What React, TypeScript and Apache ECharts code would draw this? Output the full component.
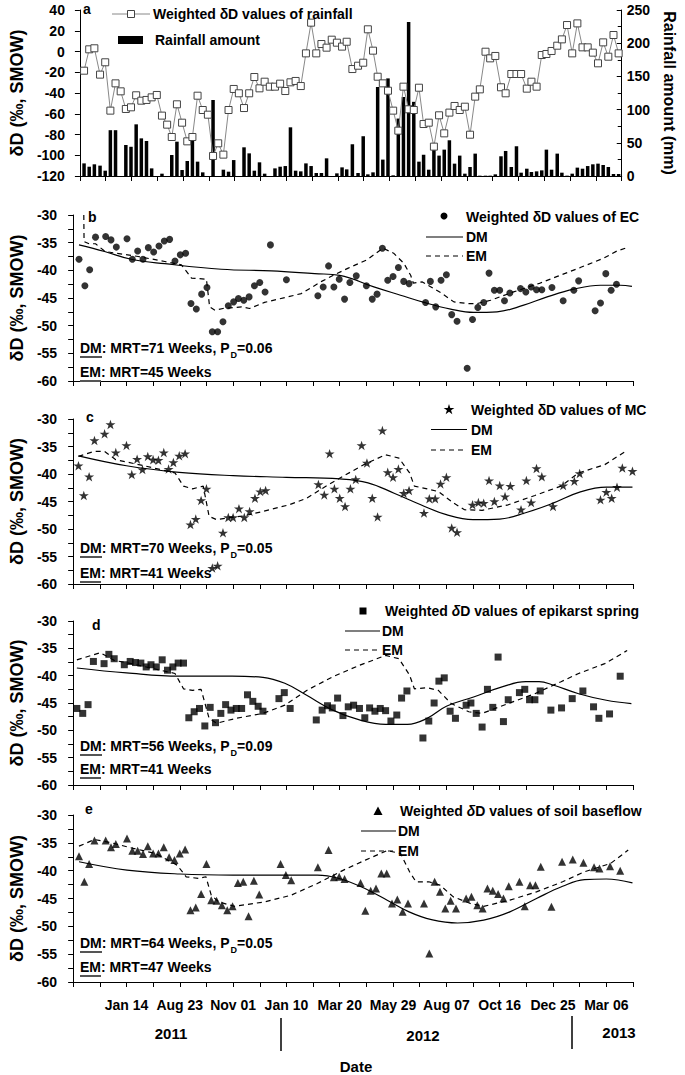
import React, { useEffect, useRef } from "react";
import * as echarts from "echarts";

const FONT = '"Liberation Sans", Arial, Helvetica, sans-serif';

// ---------- axis labels ----------
const dateTickValues = [10, 20, 30, 40, 50, 60, 70, 80, 90, 100];
const dateTickLabels = ["Jan 14", "Aug 23", "Nov 01", "Jan 10", "Mar 20", "May 29", "Aug 07", "Oct 16", "Dec 25", "Mar 06"];
const weekTicks = [0, 5, 10, 15, 20, 25, 30, 35, 40, 45, 50, 55, 60, 65, 70, 75, 80, 85, 90, 95, 100, 105];
const yearLabels = ["2011", "2012", "2013"];

// ---------- panel a: rainfall ----------
const rainWeek = [0.8, 1.8, 2.8, 3.9, 4.9, 5.9, 6.9, 7.9, 8.9, 9.9, 10.9, 11.9, 12.9, 13.9, 14.9, 15.9, 16.9, 17.8, 18.8, 19.8, 20.8, 21.8, 22.8, 23.8, 24.8, 25.8, 26.8, 27.8, 28.8, 29.8, 30.8, 31.8, 32.8, 33.8, 34.8, 35.8, 36.8, 37.8, 38.8, 39.8, 40.8, 41.8, 42.8, 43.8, 44.8, 45.8, 46.8, 47.8, 48.8, 49.8, 50.8, 51.7, 52.8, 53.9, 54.9, 55.8, 56.8, 57.7, 58.7, 59.7, 60.7, 61.7, 62.7, 63.7, 64.7, 65.7, 66.6, 67.6, 68.6, 69.6, 70.6, 71.6, 72.6, 73.6, 74.6, 75.6, 76.6, 77.5, 78.6, 79.5, 80.5, 81.6, 82.5, 83.6, 84.6, 85.5, 86.6, 87.5, 88.5, 89.5, 90.4, 91.4, 92.5, 93.4, 94.4, 95.4, 96.4, 97.4, 98.4, 99.4, 100.4, 101.4, 102.4, 103.4, 104.4];
const rainDelta = [-18.5, 2.1, 3.1, -22.3, -10.4, -57, -30.7, -38.4, -55.4, -53.8, -42.2, -47.4, -46.7, -44.2, -41.9, -61.8, -70.5, -82.4, -50.9, -68.6, -86.6, -82.4, -42.6, -56.4, -60.9, -100.7, -88.5, -99.4, -56.4, -36.1, -40.3, -54.5, -40.3, -24.6, -35.5, -29.1, -33.9, -33.9, -31, -38.1, -29.7, -28.4, -33.3, -1.8, 27.8, -1.8, 7.2, 3.7, 11.4, 8.5, 4.7, 9.4,
  -16.9, -13.7, -10.8, 21.4, 0.8, -24.3, -30.7, -37.8, -57, -76.3, -33.9, -55.7, -56.4, -34.9, -69.9, -68.6, -91.7, -61.5, -78.9, -58.9, -52.5, -56.4, -53.2, -80.2, -43.5, -36.5, -0.2, -6.6, -4.3, -34.5, -40.3, -21.7, -21.7, -21.7, -35.8, -29.1, -33.9, -3.4, -2.4, 0.5, 5.6, 11.7, 25.5, -1.8, 27.1, 4, 4, -1.1, -11.4, 8.8, -5, 15.9, -1.8];
const rainAmount = [19, 14, 17.6, 15.6, 8, 69, 69, 0, 46.7, 44, 77.8, 56.7, 52.7, 11.5, 0, 3.5, 0, 31.6, 51.7, 9, 22.6, 55.2, 21.6, 5.5, 0, 114.5, 0, 9.5, 6.5, 24, 0, 43.2, 34.1, 8, 20.6, 3.5, 0, 11.5, 14, 15, 73.3, 8, 7, 19, 15, 4.5, 4.5, 26.6, 0, 4, 13, 10,
  47.8, 4.5, 59.9, 2.5, 5.5, 134, 24.7, 147, 1, 86.5, 119, 232, 111.7, 21.6, 32, 9.5, 39.7, 30.7, 39.7, 53.8, 18.6, 30.7, 3.5, 13.6, 33.7, 0.5, 0.5, 0.5, 2.5, 29.7, 37.7, 13.6, 44.8, 5, 11, 6, 7, 8.5, 39.7, 9.5, 33.7, 5, 0.5, 3.5, 12.6, 11, 15, 17.6, 18.6, 16.6, 13.6, 3, 3];

// ---------- panel b: EC ----------
const ecPoints = [[1.1, -38], [2.2, -42.8], [3.1, -39.9], [4.2, -34], [6.1, -33.9], [7.1, -34.5], [8.1, -35.8], [10.1, -34.3], [11.1, -38], [12.1, -36.5], [13.1, -38], [14.1, -35.9], [15.1, -36.7], [16.1, -35.6], [17.1, -34.7], [18.1, -34.4], [19.1, -38.3], [20.1, -37.2], [21.1, -36.9], [22.1, -46], [23.1, -47], [24.1, -44.3], [25.1, -43.1], [26.1, -51.1], [27.1, -51.1], [28.1, -49.3], [29.1, -46.4], [30.1, -45.7], [31, -45.1], [32, -45.4], [33, -44.8], [34, -42.8], [35, -42.2], [36, -43.9], [37, -35.4], [40, -41.7], [45.9, -44.6], [46.9, -43], [47.9, -39.2], [48.9, -43], [49.9, -41.6], [50.9, -45.2], [51.9, -42.2], [53.1, -41], [55, -42.8], [56.1, -45.2], [57, -44.3], [58, -36], [59, -41.8], [60, -41.1], [61, -39.5], [62, -42], [63, -42.4], [66.1, -45.8], [67, -42], [68, -46.6], [69, -41.8], [70, -40.8], [71, -48], [72, -49.2], [73.9, -57.7], [74.9, -48.9], [75.9, -46.7], [77, -45.8], [78, -40.5], [79, -43.6], [80, -43.6], [80.9, -45.5], [81.9, -44.1], [83.9, -43.3], [84.9, -43.9], [85.9, -43], [86.9, -43.5], [87.9, -43.5], [89.8, -43.1], [91.9, -45.5], [93.9, -43.6], [94.8, -41.9], [97.9, -47.3], [98.9, -45.9], [99.9, -40.6], [100.9, -43.6], [101.9, -42.5]];
const ecDM = [[1.1, -35.4], [5.9, -36.6], [10.9, -38], [17.2, -38.8], [27.8, -39.8], [37.2, -40.1], [45.3, -40.6], [50, -40.9], [56.4, -43], [61.4, -44.5], [65.8, -45.8], [70.8, -47], [75.1, -47.6], [79.5, -47.5], [84.5, -46.3], [88.9, -44.8], [93.9, -43.4], [98.9, -42.7], [102.6, -42.7], [104.8, -42.9]];
const ecEM = [[2, -30], [2.05, -34.8], [3, -35.2], [4.2, -35.2], [6, -36.6], [12.2, -37.5], [17.2, -38.4], [20.3, -39], [22.2, -41.4], [25, -41.6], [25.6, -46.6], [26.6, -47.2], [28.1, -46.9], [31.6, -46.6], [33.1, -46.9], [35.9, -45.8], [42.8, -44.2], [46.6, -42], [49, -40.8], [51.6, -39.6], [55.1, -38.1], [58.1, -36], [60.1, -36.9], [62, -38.7], [63.3, -40.9], [63.8, -42.3], [65.5, -42.1], [68.9, -44], [71.4, -45.7], [73.9, -46], [75.8, -46], [78.3, -45.4], [82.6, -43.9], [87.6, -42.3], [90.8, -41.1], [95.1, -39.5], [99.5, -37.8], [102, -36.5], [103.9, -35.9]];

// ---------- panel c: MC ----------
const mcPoints = [[1, -38.5], [2, -43.9], [3, -40.5], [4, -33.9], [5.9, -32.7], [7, -31], [8, -36.1], [10, -34.8], [11, -40.1], [12, -37.3], [13, -39.2], [14, -36.8], [15, -37.4], [16, -37.5], [17, -36.1], [17.9, -39.1], [18.8, -37.9], [19.9, -36.7], [21, -36.3], [22, -49.2], [23, -48.2], [24, -44.8], [25, -42.7], [26.1, -57.1], [27.1, -56.7], [28.1, -50.7], [29.1, -47.9], [30, -47.9], [31.1, -46.3], [32.1, -47.9], [33.1, -46.8], [34.1, -44.4], [35.1, -43.2], [36.1, -43], [46, -41.9], [47.1, -43.8], [48.1, -36.3], [49, -42.7], [50, -44.4], [51, -45.9], [52, -42.7], [53, -41], [54.1, -34.8], [55.1, -38], [56.1, -44.4], [57.1, -47.8], [58, -32.1], [59, -39.7], [60, -40.6], [61, -39.1], [62, -43.5], [63, -43], [65.8, -47.1], [66.8, -44.5], [67.9, -44.5], [68.9, -41.8], [70, -40.6], [71, -49.8], [72, -50.6], [74.9, -45.6], [76, -45.2], [77, -45.3], [78, -41.2], [79, -45], [80, -42.1], [81, -44.1], [82, -42.2], [84, -46.5], [85, -41.2], [85.9, -45.2], [86.9, -39], [87.9, -40.5], [90, -45.9], [91.9, -42.1], [94, -41.3], [95, -39.9], [98.9, -44.7], [100, -43.3], [101, -44.4], [102, -42.4], [103, -38.9], [104.9, -39.5]];
const mcDM = [[1, -36.7], [10, -38.5], [19.9, -39.7], [30, -40.3], [40, -40.6], [50, -40.9], [55.3, -41.6], [60.2, -43.5], [65.2, -45.6], [70, -47.4], [75, -48.3], [80, -48.2], [85, -47], [90, -45.3], [95, -43.3], [100, -42.4], [104.9, -42.4]];
const mcEM = [[1, -36.8], [3.9, -35.9], [5.9, -35.9], [8, -37.4], [13.3, -38.5], [19.1, -39.8], [20.7, -42.2], [22.4, -42.7], [24.4, -42.2], [25.5, -47.7], [26.9, -48.3], [29, -48], [32.1, -47.6], [35.6, -46.8], [40.5, -45.6], [43.8, -44.4], [47.1, -42.4], [51.2, -40.1], [54.5, -38.3], [58.6, -36.5], [61.1, -37.1], [63.1, -39.8], [64, -42.2], [66.4, -42.7], [68.5, -43.2], [71.4, -45.3], [73.4, -46.5], [76.7, -46.6], [81.6, -45.6], [86.6, -43.9], [91.5, -42.2], [94.8, -39.8], [99.7, -38.3], [103.9, -35.7]];

// ---------- panel d: epikarst spring ----------
const epPoints = [[0.7, -46], [1.8, -46.9], [2.8, -45.3], [3.8, -37.4], [5.8, -37.8], [6.7, -36.1], [7.7, -36.9], [9.6, -38], [10.7, -37.4], [11.7, -37.6], [12.7, -37.7], [13.7, -38.4], [14.6, -38], [15.6, -38.4], [16.7, -37.1], [17.7, -39], [18.7, -38.4], [19.7, -37.7], [20.7, -37.7], [21.7, -47.7], [22.7, -46.6], [23.7, -46], [24.7, -49.2], [25.7, -45.8], [26.7, -48.6], [27.7, -46.9], [28.6, -45.3], [29.6, -46.3], [30.6, -46], [31.6, -46], [32.7, -43.5], [33.7, -44.7], [34.7, -45.6], [35.6, -46.5], [38.6, -44.2], [39.6, -43.1], [40.7, -46], [45.6, -48.1], [46.7, -46.3], [47.7, -45.5], [48.6, -45.9], [49.6, -44.1], [50.6, -47.3], [51.6, -45.7], [52.6, -45.4], [53.7, -46], [54.7, -47.7], [55.6, -45.9], [56.6, -46.5], [57.6, -46], [58.6, -46.4], [59.6, -48.3], [60.7, -47.2], [61.6, -44.1], [62.6, -42.8], [65.6, -51.4], [66.7, -48.3], [67.7, -45], [68.6, -41], [69.6, -40.4], [70.7, -46.5], [71.7, -47.8], [73.7, -45.4], [74.6, -45], [75.6, -46.9], [76.7, -49.4], [77.7, -42.5], [78.7, -45.8], [79.7, -36.6], [80.7, -48.4], [81.6, -44.4], [83.7, -43.1], [84.7, -42.5], [85.6, -44.4], [86.6, -44.4], [87.6, -42.8], [89.6, -46.3], [91.6, -45.9], [93.6, -44.2], [95.6, -42.8], [97.6, -45.7], [98.6, -47.8], [100.6, -47], [102.6, -40.1]];
const epDM = [[0.7, -38.6], [10, -39.5], [19.9, -40.1], [29.8, -40.1], [35.6, -40.3], [39.7, -41.4], [43.8, -43.6], [48.7, -46.3], [53.7, -48.1], [58.6, -48.9], [62.7, -48.9], [66.4, -47.8], [70, -45.6], [75.1, -43.9], [80, -42.2], [84.9, -41.1], [87.4, -41.1], [90, -41.7], [94.8, -43.3], [100, -44.5], [104.7, -45.1]];
const epEM = [[0.7, -37.1], [5.1, -35.8], [7.7, -37.2], [10.9, -37.8], [19.1, -39.6], [20.7, -42.4], [22.4, -42.7], [24, -42.5], [25.5, -47.8], [26.9, -48.7], [30.6, -47.8], [35.6, -46.9], [39.7, -45.4], [43.8, -42.7], [48.7, -40.2], [53.7, -38.1], [58.6, -36.3], [61.1, -36.9], [63.1, -39.9], [64, -42.4], [66.4, -42.2], [68.5, -42.7], [70.9, -45.1], [74.2, -46.6], [76.7, -46.9], [81.6, -45.1], [86.6, -43.3], [91.5, -41.1], [94.8, -39.6], [99.7, -37.8], [103.9, -35.4]];

// ---------- panel e: soil baseflow ----------
const sbPoints = [[1.1, -37.4], [2.1, -42], [3, -38.8], [4, -34.6], [6.1, -34.6], [7.1, -35.8], [8, -35.2], [10.1, -34.2], [11.1, -36.4], [12.1, -36.4], [13.1, -37], [14, -35.6], [15, -36.9], [16, -36.9], [17, -35.8], [18, -37.6], [19, -38.1], [20, -36.9], [21, -36.2], [22, -47.1], [23, -46.6], [24, -44.2], [25, -38.8], [25.9, -45.3], [26.9, -45.4], [27.9, -46.2], [28.9, -47.1], [29.9, -46.4], [30.9, -42.2], [31.9, -42], [32.9, -48.2], [33.9, -41.8], [34.9, -44.3], [38.9, -38.8], [39.9, -40.8], [40.9, -41.7], [45.9, -39.4], [47.9, -36.3], [48.9, -41.2], [49.9, -41.1], [50.9, -41.5], [53.9, -42.2], [54.8, -47.2], [55.8, -43.6], [56.8, -43.2], [57.8, -40.5], [58.8, -40.5], [59.8, -45.9], [60.8, -45.2], [61.8, -47.4], [62.8, -45.9], [65.8, -45.9], [66.8, -54.9], [67.8, -42], [68.8, -43.8], [69.8, -46.8], [70.8, -45.4], [71.8, -46.8], [73.7, -45], [74.7, -44.7], [75.8, -46.2], [76.8, -46.8], [77.7, -43.2], [78.7, -43.6], [79.7, -44.2], [80.7, -45], [81.7, -42.8], [83.7, -42], [84.7, -46.4], [85.7, -42.6], [86.7, -42.6], [87.7, -39.3], [89.7, -46.5], [91.7, -38.4], [93.7, -38], [95.7, -38.6], [97.7, -39.4], [98.7, -39.6], [100.7, -39.2], [102.6, -40]];
const sbDM = [[1.1, -38.4], [10.1, -39.9], [20, -40.6], [30, -40.8], [39.9, -40.8], [45.8, -40.8], [49.9, -41.4], [54, -42.9], [58.9, -45.3], [63, -47.4], [67.2, -48.8], [72.1, -49.4], [77, -48.9], [81.9, -47.4], [86.9, -45], [91.8, -42.8], [95.9, -41.6], [100, -41.5], [104.9, -42.2]];
const sbEM = [[1.1, -35.6], [4, -34.4], [7.2, -35], [11.3, -36], [15.4, -36.9], [19.5, -39], [21.2, -41.1], [23.6, -41.4], [24.9, -41.1], [25.9, -44.4], [27.3, -45.6], [30.2, -46.4], [36, -45.6], [40.9, -44.4], [45.8, -42.3], [50.7, -39.9], [54.8, -38.1], [58.9, -36.4], [61.4, -36.9], [63.1, -40.2], [64.3, -42], [66.7, -42], [68.8, -42.6], [71.3, -44.7], [74.5, -45.9], [77, -46.4], [81.9, -45.3], [86.9, -43.8], [91.8, -42], [95.9, -40.2], [100.8, -38.7], [104.1, -36.3]];

// ---------- model annotations ----------
const dmMRT = ["71", "70", "56", "64"];
const dmPD = ["0.06", "0.05", "0.09", "0.05"];
const emMRT = ["45", "41", "41", "47"];

const STAR_PATH = "path://M50,0 L61.8,35.3 L98.9,35.3 L68.8,57.1 L80.3,92.7 L50,70.5 L19.7,92.7 L31.2,57.1 L1.1,35.3 L38.2,35.3 Z";
const STAR_PTS = [[50, 0], [61.8, 35.3], [98.9, 35.3], [68.8, 57.1], [80.3, 92.7], [50, 70.5], [19.7, 92.7], [31.2, 57.1], [1.1, 35.3], [38.2, 35.3]];

function txt(x: number, y: number, text: string, size = 14, align = "left", extra: any = {}) {
  return {
    type: "text", x, y, z: 100,
    style: { text, fill: "#000", fontSize: size, fontWeight: "bold", fontFamily: FONT, align, verticalAlign: "middle", ...extra },
  };
}
function hline(x1: number, x2: number, y: number, dashed = false, color = "#000", w = 1.2) {
  return { type: "line", z: 100, shape: { x1, y1: y, x2, y2: y }, style: { stroke: color, lineWidth: w, lineDash: dashed ? [5, 4] : null } };
}

function annotation(yDM: number, yEM: number, k: number) {
  const rich = {
    u: { fontSize: 14, fontWeight: "bold", fontFamily: FONT, lineHeight: 16 },
    s: { fontSize: 9, fontWeight: "bold", fontFamily: FONT, lineHeight: 9, padding: [10, 0, 0, 1], verticalAlign: "top" },
  };
  return [
    txt(80, yDM, `{u|DM}: MRT=${dmMRT[k]} Weeks, P{s|D}=${dmPD[k]}`, 14, "left", { rich, lineHeight: 16 }),
    hline(80, 102, yDM + 9, false, "#555", 2),
    txt(80, yEM, `{u|EM}: MRT=${emMRT[k]} Weeks`, 14, "left", { rich, lineHeight: 16 }),
    hline(80, 101, yEM + 9, false, "#555", 2),
  ];
}

function legendLines(x1: number, x2: number, tx: number, yDM: number, yEM: number) {
  return [
    hline(x1, x2, yDM, false),
    txt(tx, yDM, "DM"),
    hline(x1, x2, yEM, true),
    txt(tx, yEM, "EM"),
  ];
}

export default function App() {
  const ref = useRef<HTMLDivElement>(null);
  useEffect(() => {
    if (!ref.current) return;
    const chart = echarts.init(ref.current, null, { renderer: "svg" });

    const grids = [
      { left: 73, top: 10, width: 560, height: 166 },
      { left: 73, top: 215, width: 560, height: 166 },
      { left: 73, top: 419, width: 560, height: 165 },
      { left: 73, top: 621, width: 560, height: 164 },
      { left: 73, top: 815, width: 560, height: 167 },
    ];

    const labelStyle = { color: "#000", fontWeight: "bold", fontSize: 14, fontFamily: FONT };

    const xAxes = grids.map((_, i) => ({
      type: "value", gridIndex: i, min: 0, max: 105, interval: 10,
      axisLine: { show: true, onZero: false, lineStyle: { color: "#000", width: 1 } },
      axisTick: { show: true, length: 5, customValues: weekTicks, lineStyle: { color: "#000" } },
      splitLine: { show: false },
      axisLabel: i === 4
        ? {
          show: true, margin: 16, ...labelStyle, customValues: dateTickValues,
          formatter: (v: number) => {
            const idx = dateTickValues.indexOf(Math.round(v));
            return idx >= 0 ? dateTickLabels[idx] : "";
          },
        }
        : { show: false },
    }));

    const titleStyle = { color: "#000", fontWeight: "bold", fontSize: 18, fontFamily: FONT };
    const ddYAxis = (gi: number) => ({
      type: "value", gridIndex: gi, min: -60, max: -30, interval: 5, position: "left",
      axisLine: { show: true, onZero: false, lineStyle: { color: "#000" } },
      axisTick: { show: true, length: 5, lineStyle: { color: "#000" } },
      minorTick: { show: true, splitNumber: 2, length: 5, lineStyle: { color: "#000" } },
      splitLine: { show: false },
      axisLabel: { margin: 16, ...labelStyle },
      name: "δD (‰, SMOW)", nameLocation: "middle", nameGap: 46, nameRotate: 90, nameTextStyle: titleStyle,
    });

    const yAxes = [
      {
        type: "value", gridIndex: 0, min: -120, max: 40, interval: 20, position: "left",
        axisLine: { show: true, onZero: false, lineStyle: { color: "#000" } },
        axisTick: { show: true, length: 5, lineStyle: { color: "#000" } },
        splitLine: { show: false },
        axisLabel: { margin: 15, ...labelStyle },
        name: "δD (‰, SMOW)", nameLocation: "middle", nameGap: 46, nameRotate: 90, nameTextStyle: titleStyle,
      },
      {
        type: "value", gridIndex: 0, min: 0, max: 250, interval: 50, position: "right",
        axisLine: { show: true, onZero: false, lineStyle: { color: "#000" } },
        axisTick: { show: true, inside: true, length: 5, lineStyle: { color: "#000" } },
        minorTick: { show: true, splitNumber: 2, length: 4, lineStyle: { color: "#000" } },
        splitLine: { show: false },
        axisLabel: { margin: 5, ...labelStyle },
        name: "Rainfall amount (mm)", nameLocation: "middle", nameGap: 37, nameRotate: -90,
        nameTextStyle: { ...titleStyle, fontSize: 16 },
      },
      ddYAxis(1), ddYAxis(2), ddYAxis(3), ddYAxis(4),
    ];

    const dm = (data: number[][], xi: number, yi: number) => ({
      type: "line", xAxisIndex: xi, yAxisIndex: yi, data, symbol: "none", smooth: 0.4,
      lineStyle: { color: "#000", width: 1.2 }, z: 3,
    });
    const em = (data: number[][], xi: number, yi: number) => ({
      type: "line", xAxisIndex: xi, yAxisIndex: yi, data, symbol: "none", smooth: false,
      lineStyle: { color: "#000", width: 1.2, type: [5, 4] }, z: 3,
    });
    const sc = (data: number[][], xi: number, yi: number, symbol: string, size: number) => ({
      type: "scatter", xAxisIndex: xi, yAxisIndex: yi, data, symbol, symbolSize: size, symbolKeepAspect: true,
      itemStyle: { color: "#000" }, z: 5,
    });

    const series: any[] = [
      {
        type: "bar", xAxisIndex: 0, yAxisIndex: 1, barWidth: 3.5,
        data: rainWeek.map((w, k) => [w, rainAmount[k]]),
        itemStyle: { color: "#000" }, z: 2,
      },
      {
        type: "line", xAxisIndex: 0, yAxisIndex: 0,
        data: rainWeek.map((w, k) => [w, rainDelta[k]]),
        symbol: "rect", symbolSize: 7,
        itemStyle: { color: "#fff", borderColor: "#444", borderWidth: 1 },
        lineStyle: { color: "#888", width: 1 }, z: 4,
      },
      sc(ecPoints, 1, 2, "circle", 7), dm(ecDM, 1, 2), em(ecEM, 1, 2),
      sc(mcPoints, 2, 3, STAR_PATH, 10), dm(mcDM, 2, 3), em(mcEM, 2, 3),
      sc(epPoints, 3, 4, "rect", 7), dm(epDM, 3, 4), em(epEM, 3, 4),
      sc(sbPoints, 4, 5, "triangle", 8), dm(sbDM, 4, 5), em(sbEM, 4, 5),
    ];

    const starCx = 449, starCy = 409.5;
    const graphics: any[] = [
      // panel a
      txt(83, 9, "a"),
      hline(112, 150, 14, false, "#888", 1),
      { type: "rect", z: 100, shape: { x: 127.5, y: 10.5, width: 7, height: 7 }, style: { fill: "#fff", stroke: "#444", lineWidth: 1 } },
      txt(153, 14, "Weighted δD values of rainfall"),
      { type: "rect", z: 100, shape: { x: 118, y: 36, width: 25, height: 8 }, style: { fill: "#000" } },
      txt(155, 40, "Rainfall amount"),
      // panel b
      txt(88, 217, "b"),
      { type: "circle", z: 100, shape: { cx: 444, cy: 216, r: 3.5 }, style: { fill: "#000" } },
      txt(466, 217, "Weighted δD values of EC"),
      ...legendLines(426, 463, 466, 237, 256),
      ...annotation(348, 372, 0),
      // panel c
      txt(86, 417, "c"),
      { type: "polygon", z: 100, shape: { points: STAR_PTS.map((p) => [starCx + (p[0] - 50) * 0.11, starCy + (p[1] - 50) * 0.11]) }, style: { fill: "#000" } },
      txt(471, 409.5, "Weighted δD values of MC"),
      ...legendLines(431, 467, 471, 429.5, 450),
      ...annotation(548, 573, 1),
      // panel d
      txt(92, 625, "d"),
      { type: "rect", z: 100, shape: { x: 359.5, y: 607.5, width: 7, height: 7 }, style: { fill: "#000" } },
      txt(385, 611, "Weighted {i|δ}D values of epikarst spring", 14, "left", { rich: { i: { fontStyle: "italic", fontWeight: "bold", fontSize: 14, fontFamily: FONT } } }),
      ...legendLines(345, 380, 382, 631, 650),
      ...annotation(746, 769, 2),
      // panel e
      txt(85, 809, "e"),
      { type: "polygon", z: 100, shape: { points: [[378, 806.5], [373.5, 815], [382.5, 815]] }, style: { fill: "#000" } },
      txt(400, 811, "Weighted {i|δ}D values of soil baseflow", 14, "left", { rich: { i: { fontStyle: "italic", fontWeight: "bold", fontSize: 14, fontFamily: FONT } } }),
      ...legendLines(361, 396, 398, 831, 851),
      ...annotation(943, 967, 3),
      // bottom year bar
      txt(171, 1033, yearLabels[0], 15, "center"),
      txt(423, 1035, yearLabels[1], 15, "center"),
      txt(619, 1032, yearLabels[2], 15, "center"),
      { type: "line", z: 100, shape: { x1: 281, y1: 1018, x2: 281, y2: 1051 }, style: { stroke: "#000", lineWidth: 1.5 } },
      { type: "line", z: 100, shape: { x1: 572, y1: 1016, x2: 572, y2: 1049 }, style: { stroke: "#000", lineWidth: 1.5 } },
      txt(356, 1066, "Date", 15, "center"),
    ];

    chart.setOption({
      animation: false,
      backgroundColor: "#fff",
      grid: grids,
      xAxis: xAxes,
      yAxis: yAxes,
      series,
      graphic: graphics,
    });
    return () => chart.dispose();
  }, []);

  return <div ref={ref} style={{ position: "absolute", left: 0, top: 0, width: 685, height: 1075 }} />;
}
